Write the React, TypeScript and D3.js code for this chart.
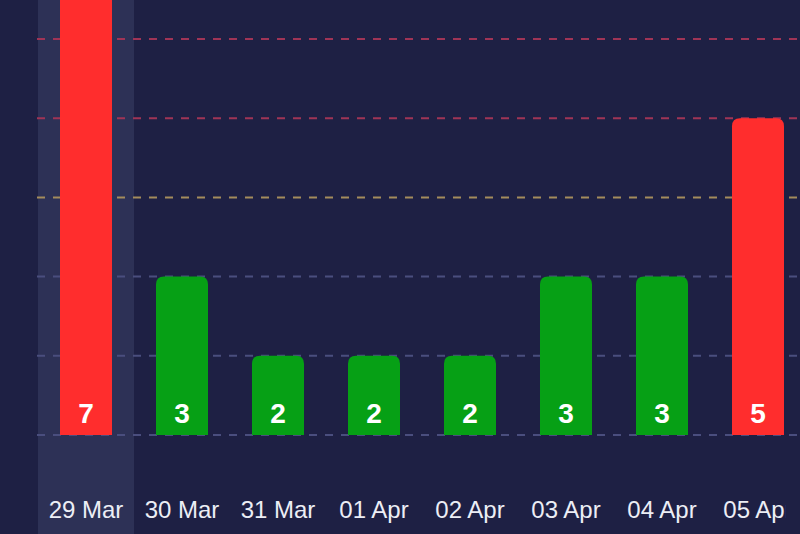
import React from "react";
import * as d3 from "d3";

const categories = ["29 Mar", "30 Mar", "31 Mar", "01 Apr", "02 Apr", "03 Apr", "04 Apr", "05 Apr"];
const values = [7, 3, 2, 2, 2, 3, 3, 5];
const barColors = ["#ff2d2d", "#06a015", "#06a015", "#06a015", "#06a015", "#06a015", "#06a015", "#ff2d2d"];
const gridValues = [1, 2, 3, 4, 5, 6];
const gridColors = ["#4a4e7e", "#4a4e7e", "#4a4e7e", "#a48c5c", "#a03456", "#a03456"];
const highlighted = "29 Mar";

const W = 800;
const H = 534;

export default function App() {
  const x = d3.scaleBand<string>().domain(categories).range([38, 38 + 96 * categories.length]).padding(0);
  const y = d3.scaleLinear().domain([1, 6]).range([435, 39]);
  const bw = 52;
  const r = 8;
  const base = y(1);

  const barPath = (cx: number, top: number) => {
    const x0 = cx - bw / 2;
    const x1 = cx + bw / 2;
    const p = d3.path();
    p.moveTo(x0, base);
    p.lineTo(x0, top + r);
    p.quadraticCurveTo(x0, top, x0 + r, top);
    p.lineTo(x1 - r, top);
    p.quadraticCurveTo(x1, top, x1, top + r);
    p.lineTo(x1, base);
    p.closePath();
    return p.toString();
  };

  return (
    <svg
      width={W}
      height={H}
      style={{ position: "fixed", left: 0, top: 0, display: "block" }}
      fontFamily="Liberation Sans, Arial, sans-serif"
    >
      <defs>
        <clipPath id="labelClip">
          <rect x={0} y={0} width={786} height={H} />
        </clipPath>
      </defs>
      <rect x={0} y={0} width={W} height={H} fill="#1e2044" />
      <rect x={x(highlighted)!} y={0} width={x.bandwidth()} height={H} fill="#2d3156" />
      {gridValues.map((v, i) => (
        <line
          key={v}
          x1={37}
          x2={W}
          y1={y(v)}
          y2={y(v)}
          stroke={gridColors[i]}
          strokeWidth={2}
          strokeDasharray="8 8"
        />
      ))}
      {categories.map((c, i) => {
        const cx = x(c)! + x.bandwidth() / 2;
        return (
          <g key={c}>
            <path d={barPath(cx, y(values[i]))} fill={barColors[i]} />
            <text
              x={cx}
              y={423}
              textAnchor="middle"
              fill="#ffffff"
              fontWeight="bold"
              fontSize={28}
            >
              {values[i]}
            </text>
            <text
              x={cx}
              y={518}
              textAnchor="middle"
              fill="#eceef5"
              fontSize={24}
              clipPath="url(#labelClip)"
            >
              {c}
            </text>
          </g>
        );
      })}
    </svg>
  );
}
